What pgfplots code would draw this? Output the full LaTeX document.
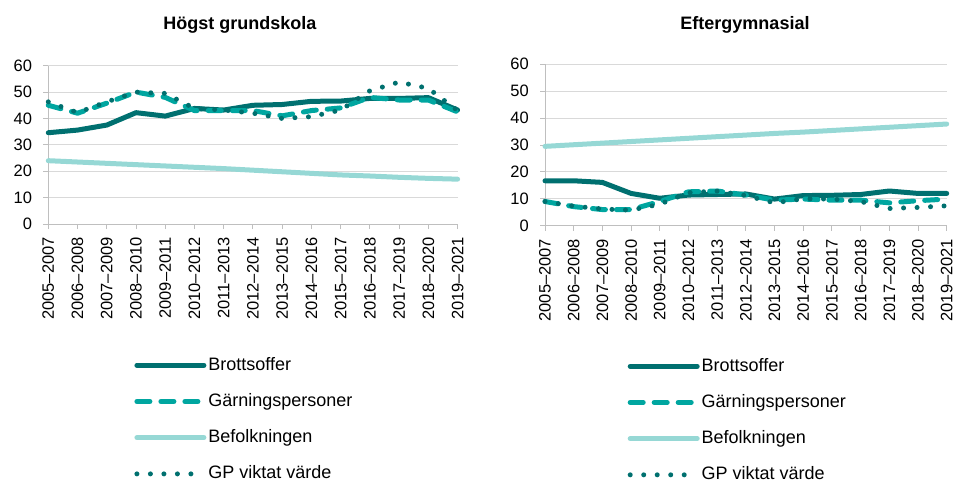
\documentclass[border=0pt]{standalone}
\usepackage{pgfplots}
\pgfplotsset{compat=1.18}
\usepackage{fontspec}
\setmainfont{Liberation Sans}
\definecolor{brott}{HTML}{007070}
\definecolor{garn}{HTML}{00A6A0}
\definecolor{befolk}{HTML}{96D8D5}
\definecolor{gpv}{HTML}{00706F}
\definecolor{gridc}{HTML}{D9D9D9}
\definecolor{axc}{HTML}{BFBFBF}
\pgfplotsset{
  mystyle/.style={
    scale only axis,
    xmin=0, xmax=14, ymin=0, ymax=60,
    xtick={0,...,14},
    ytick={0,10,...,60},
    xticklabels={2005--2007,2006--2008,2007--2009,2008--2010,2009--2011,2010--2012,2011--2013,2012--2014,2013--2015,2014--2016,2015--2017,2016--2018,2017--2019,2018--2020,2019--2021},
    axis x line*=bottom, axis y line*=left,
    axis line style={draw=axc, line width=1pt, -},
    tick align=outside, major tick length=5pt,
    tick style={draw=axc, line width=1pt},
    ymajorgrids, grid style={draw=gridc, line width=1pt},
    /pgf/number format/assume math mode=true,
    tick label style={font=\fontsize{16.5}{18}\selectfont, text=black},
    xticklabel style={rotate=90, anchor=east, inner sep=0pt, xshift=0pt},
    xticklabel shift=8pt,
    yticklabel style={inner sep=0pt},
    yticklabel shift=11pt,
    legend cell align=left,
    legend image code/.code={\draw[##1] (0pt,0pt) -- (67pt,0pt);},
    legend style={draw=none, fill=none, inner sep=0pt, anchor=north west,
      font=\fontsize{18}{20}\selectfont, row sep=22.2pt, column sep=2pt,
      nodes={inner sep=0pt, text height=12pt, text depth=2pt}},
    clip=false,
  },
  brs/.style={brott, line width=5pt, line cap=round, line join=round},
  gas/.style={garn, line width=5pt, line cap=round, line join=round, dash pattern=on 13pt off 11pt},
  bes/.style={befolk, line width=5pt, line cap=round, line join=round},
  gps/.style={gpv, line width=5pt, line cap=round, line join=round, dash pattern=on 0pt off 13.5pt},
}
\begin{document}
\begin{tikzpicture}
\path[use as bounding box] (0,0) rectangle (955pt,-483pt);
\node[anchor=base, font=\bfseries\fontsize{18}{20}\selectfont] at (240pt,-29.3pt) {Högst grundskola};
\node[anchor=base, font=\bfseries\fontsize{18}{20}\selectfont] at (745pt,-29.3pt) {Eftergymnasial};
\begin{axis}[mystyle, at={(48.3pt,-224pt)}, anchor=south west, width=409.3pt, height=158.3pt,
  legend style={at={(0.2099,-0.847)}}]
\addplot[brs] coordinates {(0,34.6) (1,35.6) (2,37.5) (3,42.2) (4,40.9) (5,43.8) (6,43.2) (7,45) (8,45.3) (9,46.5) (10,46.6) (11,47.6) (12,47.6) (13,47.9) (14,43.2)};
\addplot[gas] coordinates {(0,45) (1,42) (2,45.8) (3,50) (4,48) (5,43) (6,43) (7,43) (8,41) (9,43) (10,44) (11,48) (12,47) (13,47) (14,42.5)};
\addplot[bes] coordinates {(0,24) (1,23.5) (2,23) (3,22.5) (4,22) (5,21.5) (6,21) (7,20.4) (8,19.8) (9,19.2) (10,18.6) (11,18.2) (12,17.7) (13,17.3) (14,17)};
\addplot[gps] coordinates {(0,46.3) (1,42.2) (2,46.3) (3,50) (4,49.5) (5,43.8) (6,43.2) (7,42) (8,40) (9,40.7) (10,43.2) (11,50.5) (12,53.8) (13,51.4) (14,43)};
\legend{Brottsoffer,Gärningspersoner,Befolkningen,GP viktat värde}
\end{axis}
\begin{axis}[mystyle, at={(545pt,-225.7pt)}, anchor=south west, width=401.7pt, height=161.4pt,
  legend style={at={(0.2054,-0.826)}}]
\addplot[brs] coordinates {(0,16.7) (1,16.7) (2,16.1) (3,12) (4,10.2) (5,11.4) (6,11.6) (7,11.8) (8,9.9) (9,11.2) (10,11.3) (11,11.6) (12,12.9) (13,12) (14,12)};
\addplot[gas] coordinates {(0,9) (1,7.1) (2,6) (3,6) (4,9) (5,12.6) (6,12.9) (7,11.4) (8,9.5) (9,9.9) (10,9.5) (11,9.5) (12,8.5) (13,9.3) (14,9.9)};
\addplot[bes] coordinates {(0,29.5) (1,30.1) (2,30.7) (3,31.3) (4,31.9) (5,32.5) (6,33.1) (7,33.7) (8,34.3) (9,34.8) (10,35.4) (11,36) (12,36.6) (13,37.2) (14,37.8)};
\addplot[gps] coordinates {(0,9) (1,7.3) (2,6.2) (3,5.8) (4,8) (5,12.3) (6,12.9) (7,11.2) (8,8.5) (9,10) (10,9.9) (11,9) (12,6.4) (13,6.8) (14,7.4)};
\legend{Brottsoffer,Gärningspersoner,Befolkningen,GP viktat värde}
\end{axis}
\end{tikzpicture}
\end{document}
